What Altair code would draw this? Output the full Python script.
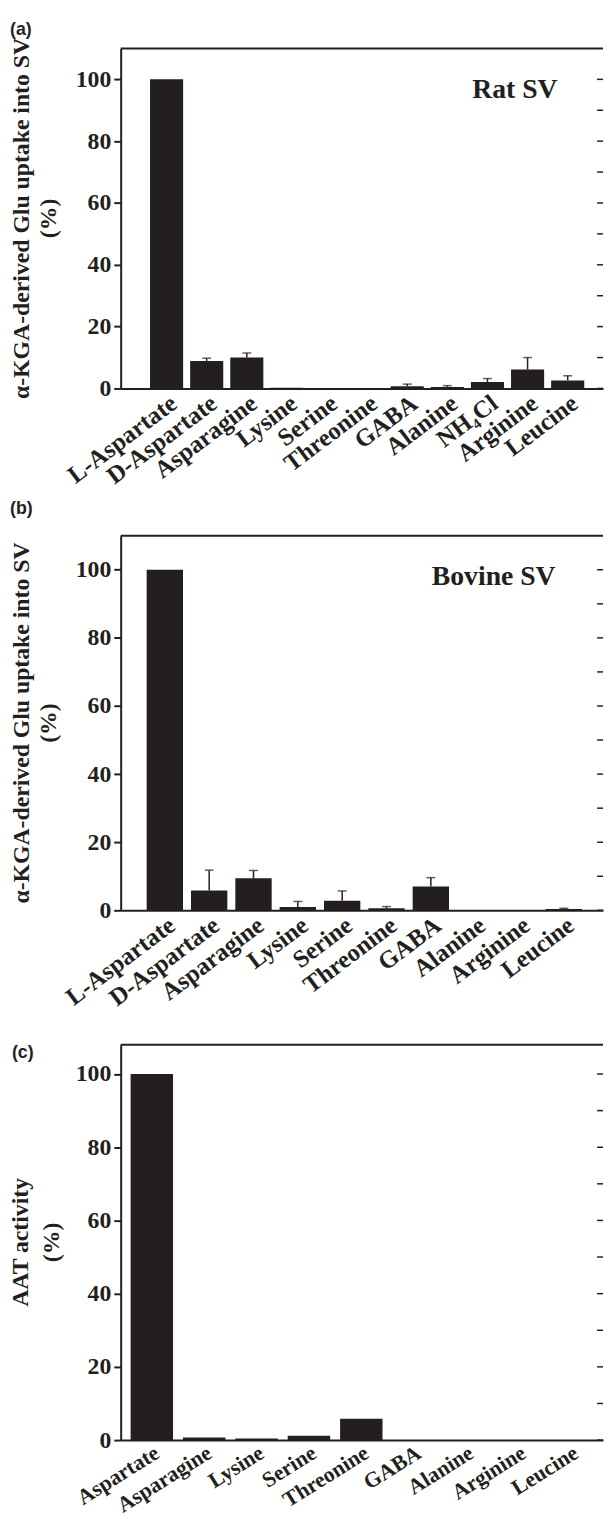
import altair as alt
import pandas as pd

# ---------------- data ----------------
cats_a = ["L-Aspartate", "D-Aspartate", "Asparagine", "Lysine", "Serine", "Threonine",
          "GABA", "Alanine", "NH\u2084Cl", "Arginine", "Leucine"]
vals_a = [100, 8.9, 10.0, 0.2, 0, 0, 0.7, 0.5, 2.1, 6.1, 2.6]
errs_a = [0, 0.9, 1.5, 0, 0, 0, 0.7, 0.4, 1.1, 3.9, 1.5]

cats_b = ["L-Aspartate", "D-Aspartate", "Asparagine", "Lysine", "Serine", "Threonine",
          "GABA", "Alanine", "Arginine", "Leucine"]
vals_b = [100, 5.8, 9.4, 1.0, 2.8, 0.6, 7.0, 0, 0, 0.4]
errs_b = [0, 6.0, 2.3, 1.6, 2.9, 0.5, 2.6, 0, 0, 0.2]

cats_c = ["Aspartate", "Asparagine", "Lysine", "Serine", "Threonine",
          "GABA", "Alanine", "Arginine", "Leucine"]
vals_c = [100, 0.7, 0.45, 1.2, 5.8, 0, 0, 0, 0]
errs_c = [0, 0, 0, 0, 0, 0, 0, 0, 0]

tick_values = [0, 10, 20, 30, 40, 50, 60, 70, 80, 90, 100]

title_ab = ["\u03b1-KGA-derived Glu uptake into SV", "(%)"]
title_c = ["AAT activity", "(%)"]

SERIF = "Liberation Serif"
SANS = "Liberation Sans"
INK = "#231f20"
LEAD = 114   # room left of the plots (axis labels, titles, panel tags)


def txt(s, x, y, **kw):
    return alt.Chart(pd.DataFrame({"s": [s]})).mark_text(**kw).encode(
        text="s:N", x=alt.value(x), y=alt.value(y))


def spacer(x, y, base):
    return txt(".", x, y, opacity=0, fontSize=2, align="left", baseline=base)


def tag_mark(s, x, y):
    return txt(s, x, y, font=SANS, fontSize=18, fontWeight="bold", color=INK,
               align="left", baseline="top")


def panel(cats, vals, errs, W, H, ymax, ytitle, title_x, tags, inset,
          inset_xy, po, pi, al, xfs, xang, top_room, bottom_at):
    df = pd.DataFrame({"cat": cats, "val": vals, "err": errs})
    xsort = alt.X("cat:N", sort=cats, title=None)
    xenc = alt.X("cat:N", sort=cats, title=None,
                 scale=alt.Scale(paddingInner=pi, paddingOuter=po, align=al),
                 axis=alt.Axis(labelAngle=xang, labelFont=SERIF,
                               labelFontSize=xfs, labelFontWeight="bold",
                               labelColor=INK, ticks=False, domainColor=INK,
                               domainWidth=2, labelPadding=2, labelOverlap=False))
    yscale = alt.Scale(domain=[0, ymax], nice=False, zero=True)
    yaxis = alt.Axis(values=tick_values,
                     labelExpr="datum.value % 20 === 0 ? datum.label : ''",
                     tickSize=7, tickWidth=2, tickColor=INK, domainColor=INK,
                     domainWidth=2, grid=False, labelFont=SERIF, labelFontSize=24,
                     labelFontWeight="bold", labelColor=INK, labelPadding=3)

    bars = alt.Chart(df).mark_bar(color=INK).encode(
        x=xenc, y=alt.Y("val:Q", scale=yscale, axis=yaxis, title=None))

    base_e = alt.Chart(df).transform_filter("datum.err > 0").transform_calculate(
        hi="datum.val + datum.err")
    stems = base_e.mark_rule(color=INK, strokeWidth=1.5).encode(
        x=xsort, y=alt.Y("val:Q", title=None), y2="hi:Q")
    caps = base_e.mark_tick(color=INK, size=9, thickness=1.5).encode(
        x=xsort, y=alt.Y("hi:Q", title=None))

    ticks_df = pd.DataFrame({"t": tick_values})
    rticks = alt.Chart(ticks_df).mark_rule(color=INK, strokeWidth=1.5).encode(
        y=alt.Y("t:Q", title=None), x=alt.value(W - 6), x2=alt.value(W))

    top = alt.Chart(ticks_df.head(1)).mark_rule(color=INK, strokeWidth=2).encode(
        x=alt.value(0), x2=alt.value(W), y=alt.value(0))

    layers = [bars, stems, caps, rticks, top, spacer(-LEAD, H / 2, "middle")]
    if top_room:
        layers.append(spacer(-LEAD, -top_room, "top"))
    if bottom_at:
        layers.append(spacer(0, bottom_at, "bottom"))

    for s, xx in zip(ytitle, title_x):
        layers.append(txt(s, xx, H / 2, font=SERIF, fontSize=24, fontWeight="bold",
                          color=INK, angle=270, align="center", baseline="middle"))

    for s, tx, ty in tags:
        layers.append(tag_mark(s, tx, ty))
    if inset:
        layers.append(txt(inset, inset_xy[0], inset_xy[1], font=SERIF, fontSize=28,
                          fontWeight="bold", color=INK, align="right",
                          baseline="alphabetic"))
    return alt.layer(*layers).properties(width=W, height=H)


# panel (a) also carries the "(b)" tag that sits just above panel (b)
pa = panel(cats_a, vals_a, errs_a, 488, 344, 110, title_ab, (-100, -72),
           [("(a)", -112, -28), ("(b)", -112, 457)], "Rat SV", (442, 50),
           0.60, 0.175, 0.61, 25, -37, 32, 492)
pb = panel(cats_b, vals_b, errs_b, 488, 379, 110, title_ab, (-100, -72),
           [], "Bovine SV", (440, 50),
           0.53, 0.18, 0.553, 25, -37, 0, 514)
pc = panel(cats_c, vals_c, errs_c, 488, 400, 108, title_c, (-101, -69),
           [("(c)", -110, -1)], None, None,
           0.2, 0.19, 0.474, 22, -32, 0, 0)

chart = alt.concat(pa, pb, pc, columns=1, spacing=0, align="none",
                   bounds="full").properties(
    padding={"left": 0, "top": 0, "right": 0, "bottom": 0}
).configure_view(stroke=None)

chart.save("out.html", embed_options={"renderer": "svg", "actions": False})
